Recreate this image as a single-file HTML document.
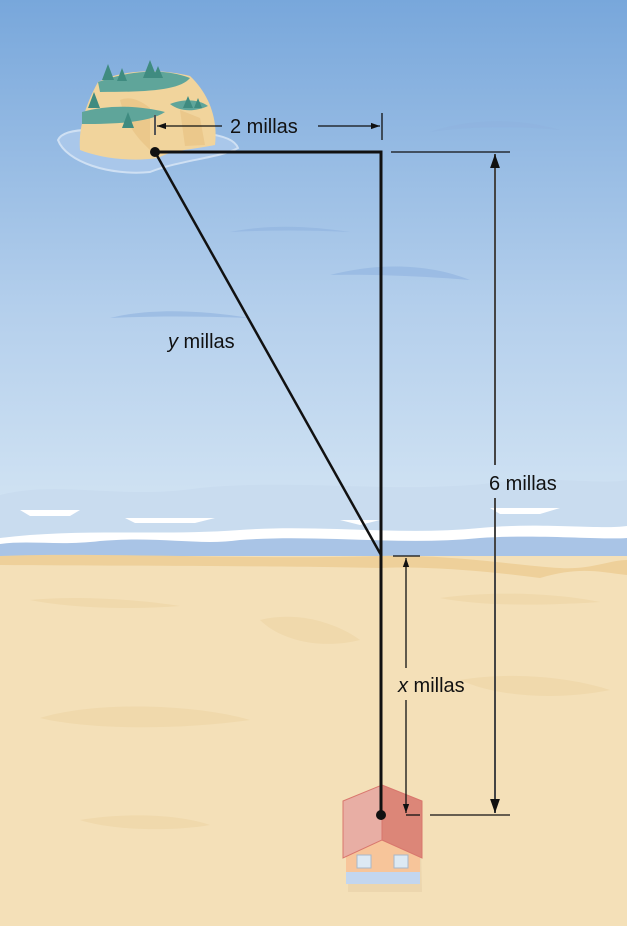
<!DOCTYPE html>
<html><head><meta charset="utf-8"><style>
html,body{margin:0;padding:0;width:627px;height:926px;overflow:hidden}
svg{display:block}
text{font-family:"Liberation Sans",sans-serif;font-size:20px;fill:#111}
</style></head><body>
<svg width="627" height="926" viewBox="0 0 627 926">
<defs>
<linearGradient id="sky" x1="0" y1="0" x2="0" y2="1">
<stop offset="0" stop-color="#78a7db"/><stop offset="0.55" stop-color="#b4cfec"/><stop offset="1" stop-color="#d8e8f5"/>
</linearGradient>
<marker id="ar" viewBox="0 0 10 10" refX="10" refY="5" markerWidth="7" markerHeight="7" orient="auto-start-reverse"><path d="M0,1.5 L10,5 L0,8.5 z" fill="#111"/></marker>
</defs>
<rect x="0" y="0" width="627" height="560" fill="url(#sky)"/>
<g fill="#8fb3df" opacity="0.6">
<path d="M430,132 C470,118 520,118 560,130 C520,126 470,126 430,132z"/>
<path d="M230,232 C270,224 310,226 350,232 C310,230 270,230 230,232z"/>
<path d="M330,275 C380,262 430,264 470,280 C420,276 370,274 330,275z"/>
<path d="M110,318 C150,308 200,310 250,318 C200,316 150,316 110,318z"/>
</g>
<g>
<path d="M0,495 C60,480 120,500 200,488 C300,478 400,495 500,482 C560,476 600,485 627,480 L627,560 L0,560z" fill="#c9dcef"/>
<path d="M20,510 h60 l-10,6 h-40z M125,518 h90 l-20,5 h-60z M340,520 h40 l-20,5z M490,508 h70 l-20,6 h-40z" fill="#ffffff"/>
<path d="M0,538 C80,528 160,536 240,530 C320,524 400,536 480,528 C540,522 600,530 627,526 L627,560 L0,560z" fill="#ffffff"/>
<path d="M0,544 C30,540 60,546 100,541 C160,536 200,546 240,540 C320,534 400,546 480,538 C540,534 600,540 627,538 L627,562 L0,562z" fill="#a9c4e6"/>
</g>
<rect x="0" y="556" width="627" height="370" fill="#f4e0b8"/>
<path d="M0,556 C100,552 250,560 380,556 C450,554 520,566 560,568 C590,570 610,560 627,560 L627,575 C600,572 580,566 540,578 C480,570 420,566 380,568 C300,566 150,566 0,565z" fill="#eed09a"/>
<g fill="#eed5a6" opacity="0.7">
<path d="M30,600 C80,595 140,600 180,606 C130,610 70,608 30,600z"/>
<path d="M440,598 C500,590 560,594 600,602 C540,606 480,606 440,598z"/>
<path d="M40,718 C100,700 200,705 250,720 C180,730 90,730 40,718z"/>
<path d="M260,620 C300,610 340,625 360,640 C320,650 280,640 260,620z"/>
<path d="M460,680 C520,670 580,680 610,690 C560,700 500,698 460,680z"/>
<path d="M80,820 C130,812 180,815 210,825 C170,832 110,830 80,820z"/>
</g>
<g>
<path d="M58,140 C65,125 110,130 140,135 C190,130 232,132 238,148 C220,158 180,160 150,172 C110,176 66,162 58,140z" fill="#a9c7ea" stroke="#cfe0f3" stroke-width="2"/>
<path d="M80,150 C78,125 88,100 98,82 C120,70 160,68 190,76 C210,95 218,120 215,145 C190,150 172,150 158,158 C130,162 100,158 80,150z" fill="#f1d49c"/>
<path d="M120,100 C130,96 140,100 150,108 L150,150 C140,140 128,130 120,100z M180,110 L200,118 L205,145 L185,146z" fill="#e8c384" opacity="0.7"/>
<path d="M98,82 C130,70 165,68 190,78 C180,90 150,92 100,92z M82,112 C110,104 140,106 165,112 C150,122 120,124 82,124z M170,104 C185,98 200,100 208,106 C195,112 180,112 170,104z" fill="#5fa59a"/>
<path d="M108,64 l6,16 h-12z M122,68 l5,13 h-10z M150,60 l7,18 h-14z M158,66 l5,12 h-10z M94,92 l6,16 h-12z M128,112 l6,16 h-12z M188,96 l5,12 h-10z M198,98 l4,10 h-8z" fill="#3f8b80"/>
</g>
<g>
<path d="M350,805 L380,787 L420,805 L422,892 L348,892z" fill="#e6cfa6" opacity="0.6"/>
<rect x="346" y="840" width="74" height="44" fill="#f7c59a"/>
<rect x="346" y="872" width="74" height="12" fill="#c3d6ef"/>
<rect x="357" y="855" width="14" height="13" fill="#dde9f3" stroke="#a8b8c8"/>
<rect x="394" y="855" width="14" height="13" fill="#dde9f3" stroke="#a8b8c8"/>
<path d="M343,801 L382,785 L382,840 L343,858z" fill="#e8aea4" stroke="#d9776d"/>
<path d="M382,785 L422,801 L422,858 L382,840z" fill="#dc8678" stroke="#d9776d"/>
</g>
<g stroke="#111" fill="none">
<polyline points="155,152 381,152 381,815" stroke-width="3"/>
<line x1="155" y1="152" x2="381" y2="555" stroke-width="2.5"/>
</g>
<circle cx="155" cy="152" r="5" fill="#111"/>
<circle cx="381" cy="815" r="5" fill="#111"/>
<g stroke="#111" stroke-width="1.3">
<line x1="155" y1="115" x2="155" y2="135" stroke="#555" stroke-width="2"/>
<line x1="382" y1="113" x2="382" y2="140"/>
<line x1="222" y1="126" x2="157" y2="126" marker-end="url(#ar)"/>
<line x1="318" y1="126" x2="380" y2="126" marker-end="url(#ar)"/>
</g>
<text x="230" y="133">2 millas</text>
<g stroke="#111" stroke-width="1.3">
<line x1="391" y1="152" x2="510" y2="152"/>
<line x1="430" y1="815" x2="510" y2="815"/>
<line x1="495" y1="465" x2="495" y2="154" marker-end="url(#ar)" stroke="#444" stroke-width="2"/>
<line x1="495" y1="498" x2="495" y2="813" marker-end="url(#ar)" stroke="#444" stroke-width="2"/>
</g>
<text x="489" y="490">6 millas</text>
<g stroke="#111" stroke-width="1.3">
<line x1="393" y1="556" x2="420" y2="556"/>
<line x1="406" y1="815" x2="420" y2="815"/>
<line x1="406" y1="668" x2="406" y2="558" marker-end="url(#ar)"/>
<line x1="406" y1="700" x2="406" y2="813" marker-end="url(#ar)"/>
</g>
<text x="398" y="692"><tspan font-style="italic">x</tspan> millas</text>
<text x="168" y="348"><tspan font-style="italic">y</tspan> millas</text>
</svg>
</body></html>
